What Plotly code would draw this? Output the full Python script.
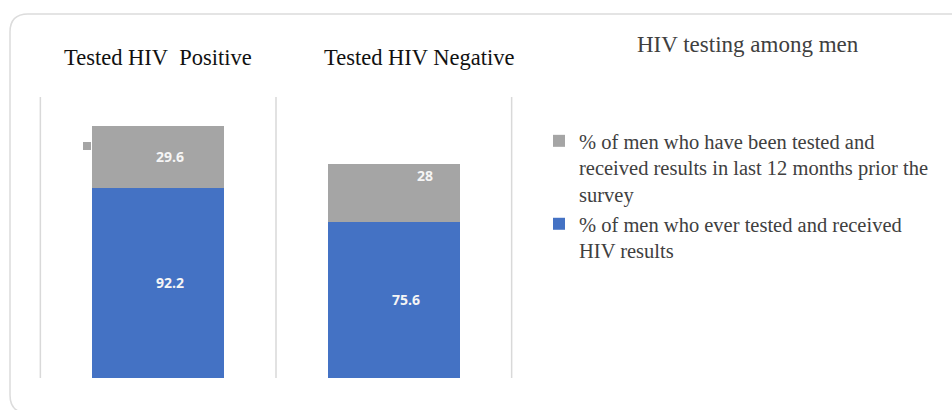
import plotly.graph_objects as go

# ---- data ----
categories = ["Tested HIV Positive", "Tested HIV Negative"]
category_titles = ["Tested HIV\u00a0 Positive", "Tested HIV Negative"]
ever_tested = [92.2, 75.6]
tested_12m = [29.6, 28]
series_names = [
    "% of men who ever tested and received<br>HIV results",
    "% of men who have been tested and<br>received results in last 12 months prior the<br>survey",
]
legend_title = "HIV testing among men"

BLUE = "#4472C4"
GRAY = "#A5A5A5"
W, H = 952, 410
L, R, T, B = 38, 438, 97, 32
PW, PH = W - L - R, H - T - B


def px(x):
    return (x - L) / PW


def py(y):
    return (H - B - y) / PH


fig = go.Figure()
fig.add_trace(go.Bar(x=categories, y=ever_tested, name=series_names[0],
                     marker=dict(color=BLUE, line=dict(width=0)), width=0.56,
                     legendgroup="a", legendrank=2, hoverinfo="skip"))
fig.add_trace(go.Bar(x=categories, y=tested_12m, name=series_names[1],
                     marker=dict(color=GRAY, line=dict(width=0)), width=0.56,
                     legendgroup="b", legendrank=1, hoverinfo="skip"))

# category separator lines (at the boundaries between categories)
for k in range(len(categories) + 1):
    fig.add_shape(type="line", xref="x", yref="paper", x0=k - 0.5, x1=k - 0.5,
                  y0=0, y1=1, line=dict(color="#D9D9D9", width=1.5), layer="below")

# data labels
label_font = dict(family="Open Sans", size=14, color="#F5F5F5")
lab_dx_blue = [12, 12]
lab_dx_gray = [12, 31]
lab_dy_gray = [0, 17]
for i, c in enumerate(categories):
    fig.add_annotation(x=c, y=ever_tested[i] / 2, text=f"<b>{ever_tested[i]:g}</b>",
                       showarrow=False, font=label_font, xshift=lab_dx_blue[i])
    fig.add_annotation(x=c, y=ever_tested[i] + tested_12m[i] / 2,
                       text=f"<b>{tested_12m[i]:g}</b>", showarrow=False,
                       font=label_font, xshift=lab_dx_gray[i], yshift=lab_dy_gray[i])

# category titles
title_dx = [0, 25]
for i, c in enumerate(categories):
    fig.add_annotation(x=c, xref="x", y=py(58), yref="paper", text=category_titles[i],
                       showarrow=False, xshift=title_dx[i], yanchor="middle",
                       xanchor="center",
                       font=dict(family="Liberation Serif", size=22.5, color="#111111"))

# legend title
fig.add_annotation(x=px(748), y=py(45), xref="paper", yref="paper", text=legend_title,
                   showarrow=False, yanchor="middle", xanchor="center",
                   font=dict(family="Liberation Serif", size=23, color="#404040"))

# rounded frame
x0, y0, x1, y1, r = 10, 14, 960, 413, 18
path = (f"M {px(x1)},{py(y0)} L {px(x0 + r)},{py(y0)} "
        f"Q {px(x0)},{py(y0)} {px(x0)},{py(y0 + r)} "
        f"L {px(x0)},{py(y1 - r)} Q {px(x0)},{py(y1)} {px(x0 + r)},{py(y1)} "
        f"L {px(x1)},{py(y1)}")
fig.add_shape(type="path", path=path, xref="paper", yref="paper",
              line=dict(color="#DCDCDC", width=1.5), layer="below")
# small stray marker at the left of the first bar
fig.add_shape(type="rect", xref="paper", yref="paper", x0=px(83), x1=px(91),
              y0=py(150), y1=py(142), fillcolor=GRAY, line=dict(width=0))

fig.update_layout(
    width=W, height=H,
    margin=dict(l=L, r=R, t=T, b=B, pad=0),
    barmode="stack",
    paper_bgcolor="white", plot_bgcolor="white",
    showlegend=True,
    legend=dict(x=px(539), y=py(121), xanchor="left", yanchor="top",
                traceorder="grouped", tracegroupgap=0, valign="top",
                font=dict(family="Liberation Serif", size=20.5, color="#404040"),
                itemwidth=30, bgcolor="rgba(0,0,0,0)"),
    xaxis=dict(range=[-0.51, 1.51], showgrid=False, showticklabels=False,
               ticks="", showline=False, zeroline=False, fixedrange=True),
    yaxis=dict(range=[0, 136], visible=False, fixedrange=True),
)

fig.write_html("out.html", config={"displayModeBar": False},
               post_script="document.body.style.margin='0';document.body.style.overflow='hidden';")
